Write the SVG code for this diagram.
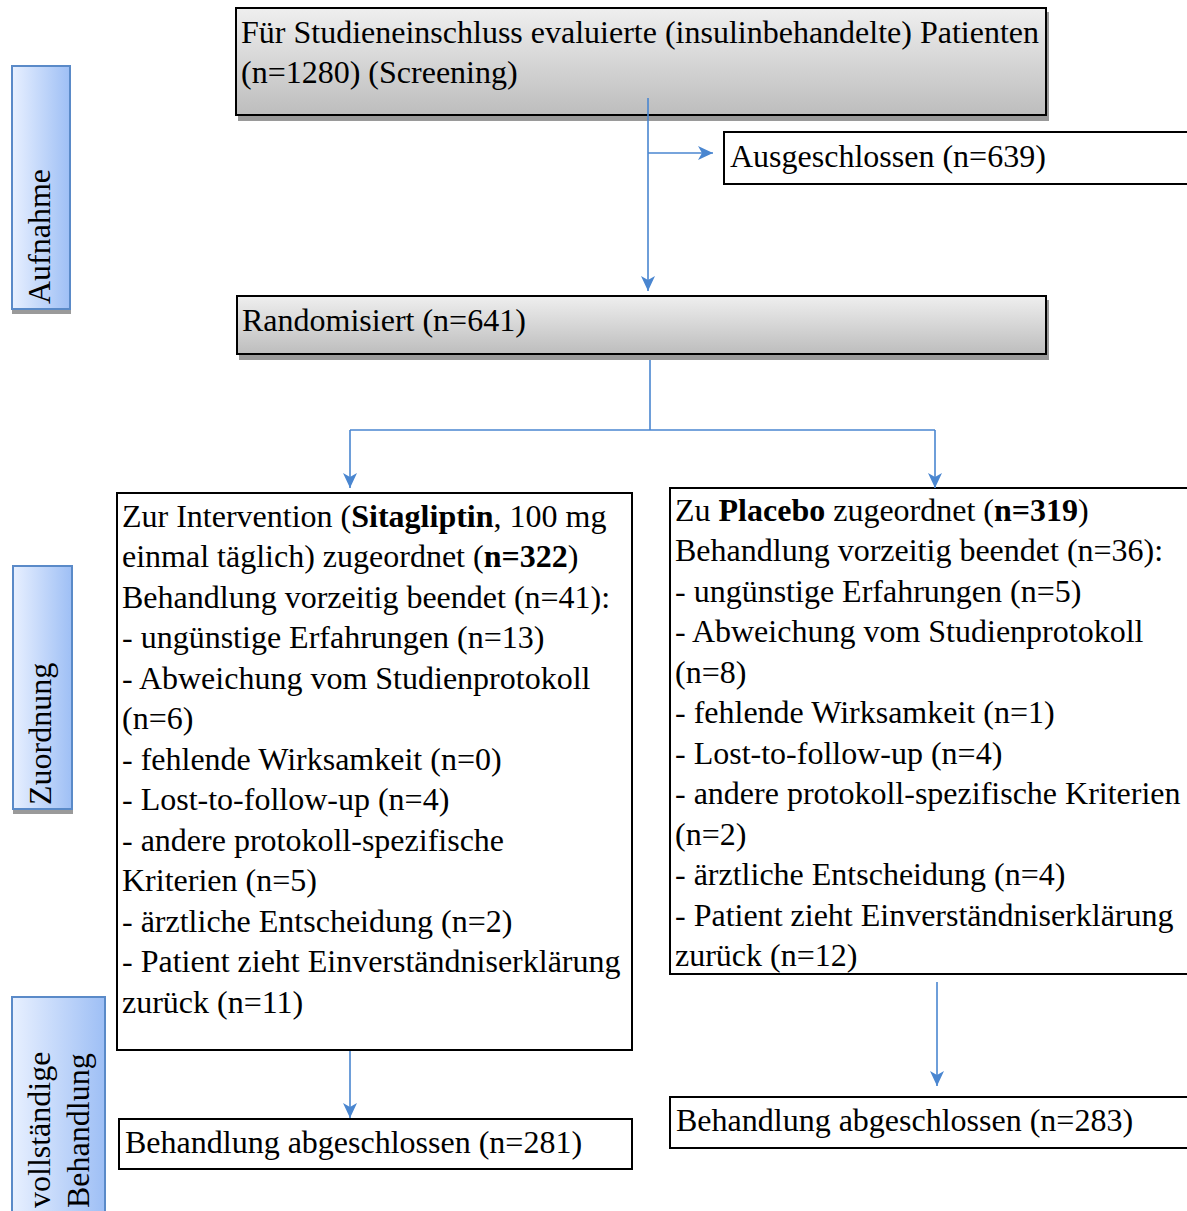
<svg xmlns="http://www.w3.org/2000/svg" width="1187" height="1211" viewBox="0 0 1187 1211">
<defs>
<linearGradient id="gray" x1="0" y1="0" x2="0" y2="1">
<stop offset="0" stop-color="#efefef"/>
<stop offset="1" stop-color="#bdbdbd"/>
</linearGradient>
<linearGradient id="blue" x1="0" y1="0" x2="1" y2="0">
<stop offset="0" stop-color="#e8f0ff"/>
<stop offset="1" stop-color="#9ebff5"/>
</linearGradient>
<marker id="arr" markerWidth="18" markerHeight="18" viewBox="0 0 18 18" refX="15" refY="9" orient="auto" markerUnits="userSpaceOnUse">
<path d="M0,2 L15,9 L0,16 L4,9 Z" fill="#4a86d0"/>
</marker>
<style>
text{font-family:"Liberation Serif","Times New Roman",serif;font-size:32px;fill:#000}
.gbox{fill:url(#gray);stroke:#000;stroke-width:2}
.wbox{fill:#fff;stroke:#000;stroke-width:2}
.shadow{fill:#9a9a9a}
.tab{fill:url(#blue);stroke:#5a8ac8;stroke-width:2}
.conn{fill:none;stroke:#4a86d0;stroke-width:1.6}
</style>
</defs>

<g id="tab-aufnahme">
<rect class="shadow" x="12" y="70" width="59" height="244"/>
<rect class="tab" x="12" y="66" width="58" height="243"/>
<text transform="translate(50,304) rotate(-90)">Aufnahme</text>
</g>
<g id="tab-zuordnung">
<rect class="shadow" x="13" y="570" width="60" height="244"/>
<rect class="tab" x="13" y="566" width="59" height="243"/>
<text transform="translate(51,805) rotate(-90)">Zuordnung</text>
</g>
<g id="tab-behandlung">
<rect class="tab" x="12" y="997" width="93" height="220"/>
<text transform="translate(50,1208) rotate(-90)">vollständige</text>
<text transform="translate(89,1208) rotate(-90)">Behandlung</text>
</g>

<g id="node-screening">
<rect class="shadow" x="238" y="12" width="811" height="109"/>
<rect class="gbox" x="236" y="8" width="810" height="107"/>
<text x="241" y="43">Für Studieneinschluss evaluierte (insulinbehandelte) Patienten</text>
<text x="241" y="83">(n=1280) (Screening)</text>
</g>

<g id="node-excluded">
<rect class="wbox" x="724" y="132" width="470" height="52"/>
<text x="730" y="167">Ausgeschlossen (n=639)</text>
</g>

<g id="node-randomized">
<rect class="shadow" x="239" y="300" width="810" height="60"/>
<rect class="gbox" x="237" y="296" width="809" height="58"/>
<text x="242" y="331">Randomisiert (n=641)</text>
</g>

<g id="node-sitagliptin">
<rect class="wbox" x="117" y="493" width="515" height="557"/>
<text x="122" y="527">Zur Intervention (<tspan font-weight="bold">Sitagliptin</tspan>, 100 mg</text>
<text x="122" y="567">einmal täglich) zugeordnet (<tspan font-weight="bold">n=322</tspan>)</text>
<text x="122" y="608">Behandlung vorzeitig beendet (n=41):</text>
<text x="122" y="648">- ungünstige Erfahrungen (n=13)</text>
<text x="122" y="689">- Abweichung vom Studienprotokoll</text>
<text x="122" y="729">(n=6)</text>
<text x="122" y="770">- fehlende Wirksamkeit (n=0)</text>
<text x="122" y="810">- Lost-to-follow-up (n=4)</text>
<text x="122" y="851">- andere protokoll-spezifische</text>
<text x="122" y="891">Kriterien (n=5)</text>
<text x="122" y="932">- ärztliche Entscheidung (n=2)</text>
<text x="122" y="972">- Patient zieht Einverständniserklärung</text>
<text x="122" y="1013">zurück (n=11)</text>
</g>

<g id="node-placebo">
<rect class="wbox" x="670" y="488" width="524" height="486"/>
<text x="675" y="521">Zu <tspan font-weight="bold">Placebo</tspan> zugeordnet (<tspan font-weight="bold">n=319</tspan>)</text>
<text x="675" y="561">Behandlung vorzeitig beendet (n=36):</text>
<text x="675" y="602">- ungünstige Erfahrungen (n=5)</text>
<text x="675" y="642">- Abweichung vom Studienprotokoll</text>
<text x="675" y="683">(n=8)</text>
<text x="675" y="723">- fehlende Wirksamkeit (n=1)</text>
<text x="675" y="764">- Lost-to-follow-up (n=4)</text>
<text x="675" y="804">- andere protokoll-spezifische Kriterien</text>
<text x="675" y="845">(n=2)</text>
<text x="675" y="885">- ärztliche Entscheidung (n=4)</text>
<text x="675" y="926">- Patient zieht Einverständniserklärung</text>
<text x="675" y="966">zurück (n=12)</text>
</g>

<g id="node-completed-left">
<rect class="wbox" x="119" y="1119" width="513" height="50"/>
<text x="125" y="1153">Behandlung abgeschlossen (n=281)</text>
</g>

<g id="node-completed-right">
<rect class="wbox" x="670" y="1097" width="524" height="51"/>
<text x="676" y="1131">Behandlung abgeschlossen (n=283)</text>
</g>

<g id="connectors">
<path class="conn" d="M648,98 V291" marker-end="url(#arr)"/>
<path class="conn" d="M648,153 H713" marker-end="url(#arr)"/>
<path class="conn" d="M650,360 V430"/>
<path class="conn" d="M350,430 H935"/>
<path class="conn" d="M350,430 V488" marker-end="url(#arr)"/>
<path class="conn" d="M935,430 V488" marker-end="url(#arr)"/>
<path class="conn" d="M350,1051 V1118" marker-end="url(#arr)"/>
<path class="conn" d="M937,982 V1086" marker-end="url(#arr)"/>
</g>
</svg>
